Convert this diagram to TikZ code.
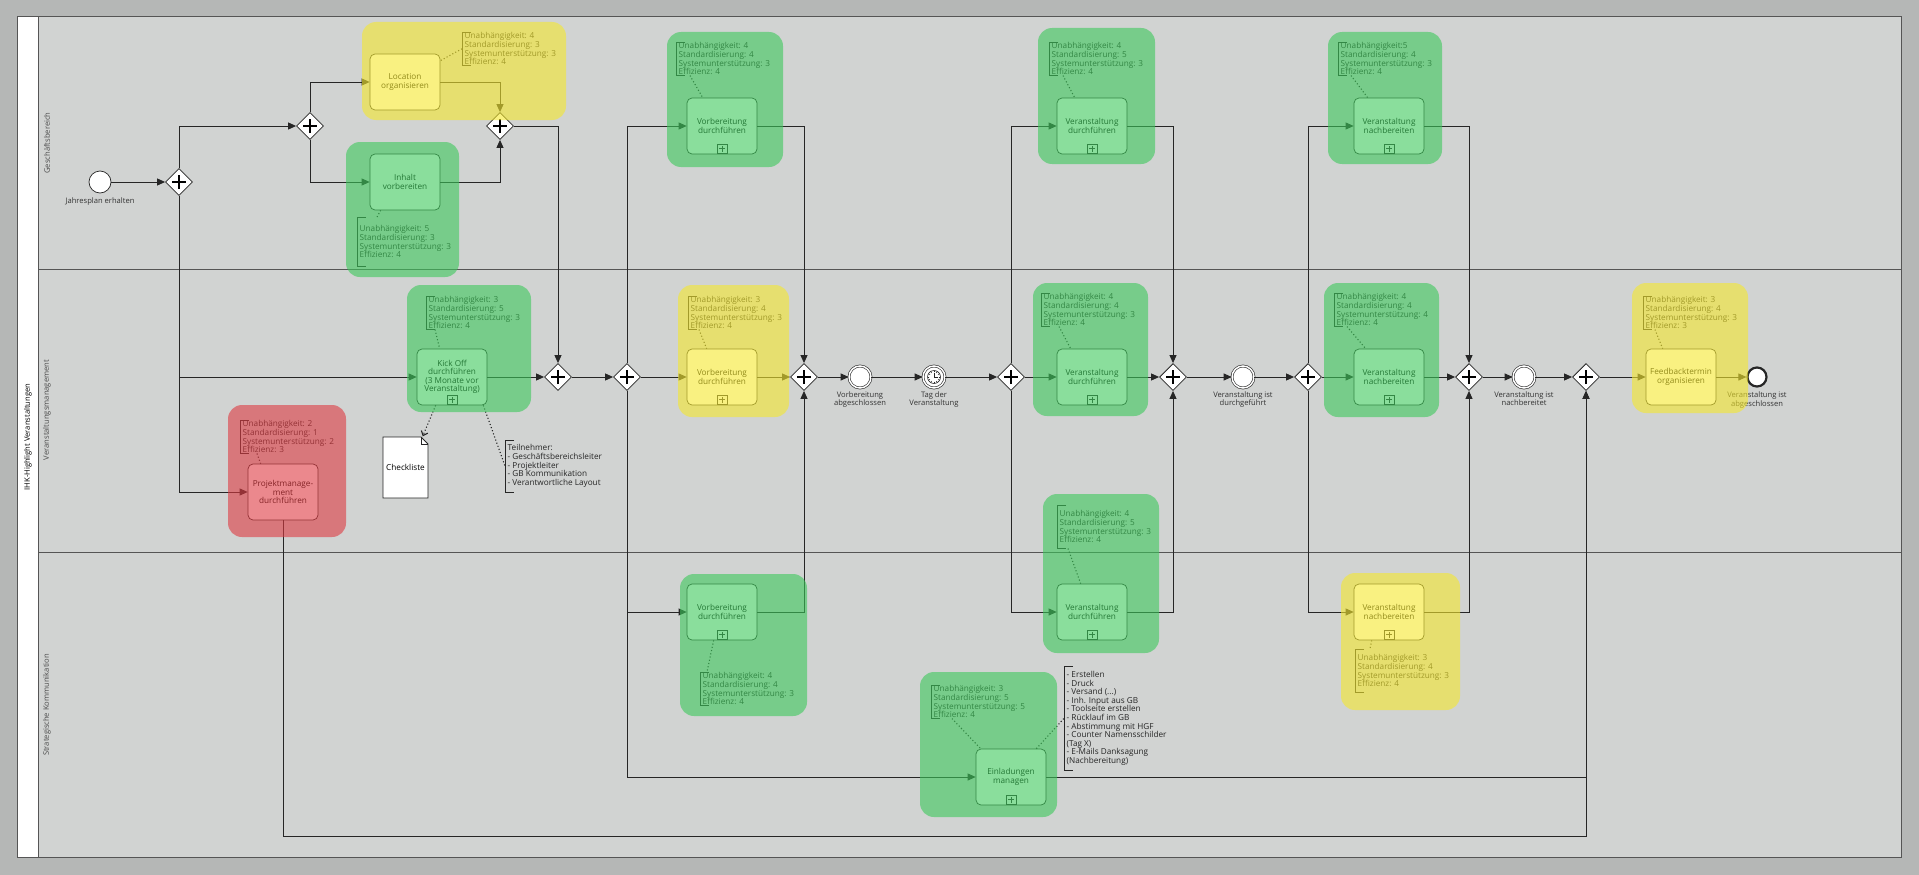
\documentclass[tikz,border=0pt]{standalone}
\usepackage{fontspec}
\setmainfont{Open Sans}
\usepackage{tikz}
\usetikzlibrary{arrows.meta, shapes.geometric, positioning, calc}
\definecolor{outerbg}{RGB}{181, 183, 182}
\definecolor{lanebg}{RGB}{209, 211, 210}
\definecolor{lineclr}{RGB}{85, 85, 85}
\definecolor{hlgreen}{RGB}{60, 200, 90}
\definecolor{hlyellow}{RGB}{245, 232, 45}
\definecolor{hlred}{RGB}{222, 58, 65}
\newcommand{\taskfont}{\fontsize{8.2}{8.5}\selectfont}
\newcommand{\annofont}{\fontsize{8.2}{8.6}\selectfont}
\newcommand{\evfont}{\fontsize{7.6}{7.4}\selectfont}
\newcommand{\lanefont}{\fontsize{7.6}{8}\selectfont}

\tikzset{
  flow/.style={draw=black!85, line width=0.9pt, -{Triangle[length=8pt, width=7pt]}},
  assoc/.style={draw=black!85, line width=1.1pt, dash pattern=on 1.1pt off 2.2pt},
  assocdoc/.style={assoc, -{Straight Barb[length=4pt, width=7pt]}},
  annoline/.style={draw=black!85, line width=0.7pt},
  task/.style={rectangle, rounded corners=5pt, draw=black!85, line width=0.7pt, fill=white,
    minimum width=70pt, minimum height=56pt, align=center, font=\taskfont, inner sep=1pt},
  subtask/.style={task, path picture={
      \draw[black!85, line width=0.6pt, sharp corners]
        ([xshift=-5pt, yshift=1pt]path picture bounding box.south) rectangle
        ([xshift=5pt, yshift=10pt]path picture bounding box.south);
      \draw[black!85, line width=0.6pt, sharp corners]
        ([yshift=2.5pt]path picture bounding box.south) -- ([yshift=8.5pt]path picture bounding box.south)
        ([xshift=-3pt, yshift=5.5pt]path picture bounding box.south) -- ([xshift=3pt, yshift=5.5pt]path picture bounding box.south);}},
  gate/.style={diamond, draw=black!85, fill=white, line width=0.8pt, minimum width=27pt,
    minimum height=27pt, inner sep=0pt, path picture={
      \draw[black, line width=2.3pt]
        ([xshift=-7pt]path picture bounding box.center) -- ([xshift=7pt]path picture bounding box.center)
        ([yshift=-7pt]path picture bounding box.center) -- ([yshift=7pt]path picture bounding box.center);}},
  startev/.style={circle, draw=black!85, fill=white, line width=0.7pt, minimum size=22pt, inner sep=0pt},
  midev/.style={startev, double=white, double distance=1.5pt, line width=0.6pt},
  endevent/.style={startev, line width=2.2pt, minimum size=19pt},
  timerev/.style={midev, path picture={
      \draw[black!85, line width=0.6pt] (path picture bounding box.center) circle (6.5pt);
      \foreach \ang in {0,30,...,330}
        \draw[black!85, line width=0.5pt] ([shift={(\ang:4.6pt)}]path picture bounding box.center)
          -- ([shift={(\ang:6.3pt)}]path picture bounding box.center);
      \draw[black!85, line width=0.7pt] ([yshift=4.5pt]path picture bounding box.center)
        -- (path picture bounding box.center) -- ([xshift=3.5pt]path picture bounding box.center);}},
  docobj/.style={rectangle, minimum width=46pt, minimum height=62pt, inner sep=0pt, font=\taskfont,
    path picture={
      \draw[black!85, line width=0.8pt, fill=white]
        ([shift={(0.5pt,0.5pt)}]path picture bounding box.south west)
        -- ([shift={(0.5pt,-0.5pt)}]path picture bounding box.north west)
        -- ([shift={(-7.5pt,-0.5pt)}]path picture bounding box.north east)
        -- ([shift={(-0.5pt,-7.5pt)}]path picture bounding box.north east)
        -- ([shift={(-0.5pt,0.5pt)}]path picture bounding box.south east) -- cycle;
      \draw[black!85, line width=0.6pt]
        ([shift={(-7.5pt,-0.5pt)}]path picture bounding box.north east)
        -- ([shift={(-7.5pt,-7.5pt)}]path picture bounding box.north east)
        -- ([shift={(-0.5pt,-7.5pt)}]path picture bounding box.north east);}},
  evlabel/.style={font=\evfont, text=black!80, align=center, inner sep=0pt},
  anno/.style={anchor=north west, align=left, font=\annofont, text=black!85, inner xsep=2.5pt, inner ysep=0.5pt},
  lanelbl/.style={rotate=90, font=\lanefont, text=black!70},
  markgreen/.style={fill=hlgreen, opacity=0.6, rounded corners=14pt},
  markyellow/.style={fill=hlyellow, opacity=0.6, rounded corners=14pt},
  markred/.style={fill=hlred, opacity=0.6, rounded corners=14pt}
}

\begin{document}
\begin{tikzpicture}[x=1pt, y=-1pt]

  \useasboundingbox (0,0) rectangle (1919,875);

  % Pool and lanes
  \fill[outerbg] (0,0) rectangle (1919,875);
  \draw[lineclr, fill=lanebg, line width=1pt] (17,17) rectangle (1901,857);
  \fill[white] (17.5,17.5) rectangle (38,856.5);
  \draw[lineclr, line width=0.8pt] (38,17) -- (38,857);
  \draw[lineclr, line width=0.8pt] (38,269) -- (1901,269);
  \draw[lineclr, line width=0.8pt] (38,552) -- (1901,552);

  \node[rotate=90, font=\lanefont, text=black] (pool) at (28,437) {IHK-Highlight Veranstaltungen};
  \node[lanelbl] (laneGB) at (47,143) {Geschäftsbereich};
  \node[lanelbl] (laneVM) at (47,410) {Veranstaltungsmanagement};
  \node[lanelbl] (laneSK) at (47,705) {Strategische Kommunikation};

  % Geschaeftsbereich
  \node[startev] (start) at (100,182) {};
  \node[evlabel, below=4pt of start] (startlbl) {Jahresplan erhalten};
  \node[gate] (g1) at (179,182) {};
  \node[gate] (g2) at (310,126) {};
  \node[task] (loc) at (405,82) {Location\\organisieren};
  \node[task] (inh) at (405,182) {Inhalt\\vorbereiten};
  \node[gate] (g3) at (500,126) {};
  \node[subtask] (vorbA) at (722,126) {Vorbereitung\\durchführen};
  \node[subtask] (vdA) at (1092,126) {Veranstaltung\\durchführen};
  \node[subtask] (vnA) at (1389,126) {Veranstaltung\\nachbereiten};

  % Veranstaltungsmanagement
  \node[subtask] (kick) at (452,377) {Kick Off\\durchführen\\(3 Monate vor\\Veranstaltung)};
  \node[task] (pm) at (283,492) {Projektmanage-\\ment\\durchführen};
  \node[docobj] (check) at (405.5,467.5) {Checkliste};
  \node[gate] (g4) at (558,377) {};
  \node[gate] (g5) at (627,377) {};
  \node[subtask] (vorbB) at (722,377) {Vorbereitung\\durchführen};
  \node[gate] (g6) at (804,377) {};
  \node[midev] (evA) at (860,377) {};
  \node[evlabel, below=3pt of evA] (evAlbl) {Vorbereitung\\abgeschlossen};
  \node[timerev] (timer) at (934,377) {};
  \node[evlabel, below=3pt of timer] (timerlbl) {Tag der\\Veranstaltung};
  \node[gate] (g7) at (1011,377) {};
  \node[subtask] (vdB) at (1092,377) {Veranstaltung\\durchführen};
  \node[gate] (g8) at (1173,377) {};
  \node[midev] (evB) at (1243,377) {};
  \node[evlabel, below=3pt of evB] (evBlbl) {Veranstaltung ist\\durchgeführt};
  \node[gate] (g9) at (1308,377) {};
  \node[subtask] (vnB) at (1389,377) {Veranstaltung\\nachbereiten};
  \node[gate] (g10) at (1469,377) {};
  \node[midev] (evC) at (1524,377) {};
  \node[evlabel, below=3pt of evC] (evClbl) {Veranstaltung ist\\nachbereitet};
  \node[gate] (g11) at (1586,377) {};
  \node[task] (feed) at (1681,377) {Feedbacktermin\\organisieren};
  \node[endevent] (endev) at (1757,377) {};
  \node[evlabel, below=4pt of endev] (endlbl) {Veranstaltung ist\\abgeschlossen};

  % Strategische Kommunikation
  \node[subtask] (vorbC) at (722,612) {Vorbereitung\\durchführen};
  \node[subtask] (vdC) at (1092,612) {Veranstaltung\\durchführen};
  \node[subtask] (einl) at (1011,777) {Einladungen\\managen};
  \node[subtask] (vnC) at (1389,612) {Veranstaltung\\nachbereiten};
  \coordinate (pmbend) at (283,836);

  % Sequence flows
  \draw[flow] (start) -- (g1);
  \draw[flow] (g1.north) |- (g2);
  \draw[flow] (g1.south) |- (kick);
  \draw[flow] (g1.south) |- (pm);
  \draw[flow] (g2.north) |- (loc);
  \draw[flow] (g2.south) |- (inh);
  \draw[flow] (loc) -| (g3);
  \draw[flow] (inh) -| (g3);
  \draw[flow] (g3) -| (g4);
  \draw[flow] (kick) -- (g4);
  \draw[flow] (g4) -- (g5);
  \draw[flow] (g5) |- (vorbA);
  \draw[flow] (g5) -- (vorbB);
  \draw[flow] (g5) |- (vorbC);
  \draw[flow] (g5) |- (einl);
  \draw[flow] (vorbA) -| (g6);
  \draw[flow] (vorbB) -- (g6);
  \draw[flow] (vorbC) -| (g6);
  \draw[flow] (g6) -- (evA);
  \draw[flow] (evA) -- (timer);
  \draw[flow] (timer) -- (g7);
  \draw[flow] (g7) |- (vdA);
  \draw[flow] (g7) -- (vdB);
  \draw[flow] (g7) |- (vdC);
  \draw[flow] (vdA) -| (g8);
  \draw[flow] (vdB) -- (g8);
  \draw[flow] (vdC) -| (g8);
  \draw[flow] (g8) -- (evB);
  \draw[flow] (evB) -- (g9);
  \draw[flow] (g9) |- (vnA);
  \draw[flow] (g9) -- (vnB);
  \draw[flow] (g9) |- (vnC);
  \draw[flow] (vnA) -| (g10);
  \draw[flow] (vnB) -- (g10);
  \draw[flow] (vnC) -| (g10);
  \draw[flow] (g10) -- (evC);
  \draw[flow] (evC) -- (g11);
  \draw[flow] (einl) -| (g11);
  \draw[flow] (pm.south) -- (pmbend) -| (g11);
  \draw[flow] (g11) -- (feed);
  \draw[flow] (feed) -- (endev);

  % Annotations
  \node[anno] (anLoc) at (462,32) {Unabhängigkeit: 4\\Standardisierung: 3\\Systemunterstützung: 3\\Effizienz: 4};
  \node[anno, inner ysep=8.5pt] (anInh) at (357,217) {Unabhängigkeit: 5\\Standardisierung: 3\\Systemunterstützung: 3\\Effizienz: 4};
  \node[anno] (anKick) at (426,296) {Unabhängigkeit: 3\\Standardisierung: 5\\Systemunterstützung: 3\\Effizienz: 4};
  \node[anno] (anPm) at (240,420) {Unabhängigkeit: 2\\Standardisierung: 1\\Systemunterstützung: 2\\Effizienz: 3};
  \node[anno] (anVorbA) at (676,42) {Unabhängigkeit: 4\\Standardisierung: 4\\Systemunterstützung: 3\\Effizienz: 4};
  \node[anno] (anVorbB) at (688,296) {Unabhängigkeit: 3\\Standardisierung: 4\\Systemunterstützung: 3\\Effizienz: 4};
  \node[anno] (anVorbC) at (700,672) {Unabhängigkeit: 4\\Standardisierung: 4\\Systemunterstützung: 3\\Effizienz: 4};
  \node[anno] (anVdA) at (1049,42) {Unabhängigkeit: 4\\Standardisierung: 5\\Systemunterstützung: 3\\Effizienz: 4};
  \node[anno] (anVdB) at (1041,293) {Unabhängigkeit: 4\\Standardisierung: 4\\Systemunterstützung: 3\\Effizienz: 4};
  \node[anno, inner ysep=5.5pt] (anVdC) at (1057,505) {Unabhängigkeit: 4\\Standardisierung: 5\\Systemunterstützung: 3\\Effizienz: 4};
  \node[anno] (anEinl) at (931,685) {Unabhängigkeit: 3\\Standardisierung: 5\\Systemunterstützung: 5\\Effizienz: 4};
  \node[anno] (anVnA) at (1338,42) {Unabhängigkeit:5\\Standardisierung: 4\\Systemunterstützung: 3\\Effizienz: 4};
  \node[anno] (anVnB) at (1334,293) {Unabhängigkeit: 4\\Standardisierung: 4\\Systemunterstützung: 4\\Effizienz: 4};
  \node[anno, inner ysep=5.5pt] (anVnC) at (1355,649) {Unabhängigkeit: 3\\Standardisierung: 4\\Systemunterstützung: 3\\Effizienz: 4};
  \node[anno] (anFeed) at (1643,296) {Unabhängigkeit: 3\\Standardisierung: 4\\Systemunterstützung: 3\\Effizienz: 3};
  \node[anno, inner ysep=4.5pt] (anTeil) at (505,440) {Teilnehmer:\\- Geschäftsbereichsleiter\\- Projektleiter\\- GB Kommunikation\\- Verantwortliche Layout};
  \node[anno, inner ysep=5pt] (anList) at (1064,666) {- Erstellen\\- Druck\\- Versand (...)\\- Inh. Input aus GB\\- Toolseite erstellen\\- Rücklauf im GB\\- Abstimmung mit HGF\\- Counter Namensschilder\\(Tag X)\\- E-Mails Danksagung\\(Nachbereitung)};

  \foreach \a in {anLoc, anInh, anKick, anPm, anVorbA, anVorbB, anVorbC, anVdA, anVdB, anVdC,
                  anEinl, anVnA, anVnB, anVnC, anFeed, anTeil, anList}
    \draw[annoline] ([xshift=9pt]\a.north west) -- (\a.north west) -- (\a.south west) -- ([xshift=9pt]\a.south west);

  % Associations
  \draw[assoc] (anLoc.west) -- ([yshift=-7pt]loc.north east);
  \draw[assoc] ([xshift=20pt]anInh.north west) -- ([xshift=11pt]inh.south west);
  \draw[assoc] ([xshift=9pt]anKick.south west) -- ([xshift=23pt]kick.north west);
  \draw[assoc] ([xshift=17pt]anPm.south west) -- ([xshift=13pt]pm.north west);
  \draw[assoc] ([xshift=14pt]anVorbA.south west) -- ([xshift=16pt]vorbA.north west);
  \draw[assoc] ([xshift=11pt]anVorbB.south west) -- ([xshift=20pt]vorbB.north west);
  \draw[assoc] ([xshift=27pt]vorbC.south west) -- ([xshift=7pt]anVorbC.north west);
  \draw[assoc] ([xshift=14pt]anVdA.south west) -- ([xshift=18pt]vdA.north west);
  \draw[assoc] ([xshift=18pt]anVdB.south west) -- ([xshift=14pt]vdB.north west);
  \draw[assoc] ([xshift=11pt]anVdC.south west) -- ([xshift=24pt]vdC.north west);
  \draw[assoc] ([xshift=21pt]anEinl.south west) -- ([xshift=5pt]einl.north west);
  \draw[assoc] ([xshift=13pt]anVnA.south west) -- ([xshift=14pt]vnA.north west);
  \draw[assoc] ([xshift=13pt]anVnB.south west) -- ([xshift=12pt]vnB.north west);
  \draw[assoc] ([xshift=18pt]vnC.south west) -- ([xshift=15pt]anVnC.north west);
  \draw[assoc] ([xshift=12pt]anFeed.south west) -- ([xshift=17pt]feed.north west);
  \draw[assoc] ([xshift=-4pt]kick.south east) -- (anTeil.west);
  \draw[assoc] ([xshift=-10pt]einl.north east) -- (anList.west);
  \draw[assocdoc] ([xshift=19pt]kick.south west) -- ([xshift=-6pt]check.north east);

  % Rating highlights
  \fill[markyellow] (362,22) rectangle (566,120);
  \fill[markgreen] (346,142) rectangle (459,277);
  \fill[markgreen] (407,285) rectangle (531,412);
  \fill[markred] (228,405) rectangle (346,537);
  \fill[markgreen] (667,32) rectangle (783,167);
  \fill[markyellow] (678,285) rectangle (789,417);
  \fill[markgreen] (680,574) rectangle (807,716);
  \fill[markgreen] (1038,28) rectangle (1155,164);
  \fill[markgreen] (1033,283) rectangle (1148,416);
  \fill[markgreen] (1043,494) rectangle (1159,653);
  \fill[markgreen] (920,672) rectangle (1057,817);
  \fill[markgreen] (1328,32) rectangle (1442,164);
  \fill[markgreen] (1324,283) rectangle (1439,417);
  \fill[markyellow] (1341,573) rectangle (1460,710);
  \fill[markyellow] (1632,283) rectangle (1748,413);

\end{tikzpicture}
\end{document}
